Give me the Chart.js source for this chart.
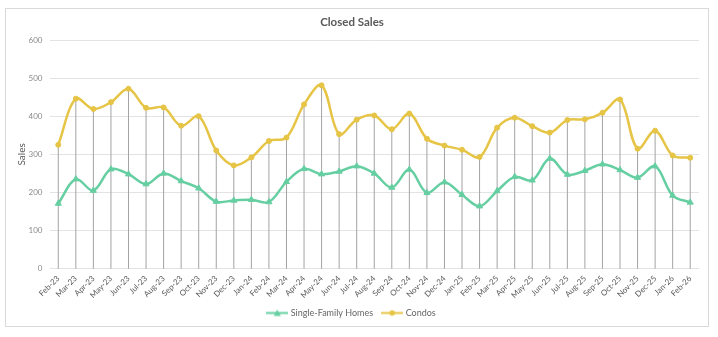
<!DOCTYPE html>
<html>
<head>
<meta charset="utf-8">
<script src="https://cdn.jsdelivr.net/npm/chart.js@4.4.1/dist/chart.umd.min.js"></script>
<style>
  body { margin: 0; background: #fff; }
  canvas { display: block; }
</style>
</head>
<body>
<canvas id="chart" width="718" height="337"></canvas>
<script>
const months = [
  "Feb-23", "Mar-23", "Apr-23", "May-23", "Jun-23", "Jul-23", "Aug-23", "Sep-23", "Oct-23", "Nov-23", "Dec-23", "Jan-24",
  "Feb-24", "Mar-24", "Apr-24", "May-24", "Jun-24", "Jul-24", "Aug-24", "Sep-24", "Oct-24", "Nov-24", "Dec-24", "Jan-25",
  "Feb-25", "Mar-25", "Apr-25", "May-25", "Jun-25", "Jul-25", "Aug-25", "Sep-25", "Oct-25", "Nov-25", "Dec-25", "Jan-26",
  "Feb-26"
];
const singleFamily = [
  171, 235, 205, 261, 248, 222, 250, 230, 211, 176, 179, 181,
  175, 228, 262, 248, 255, 269, 250, 213, 260, 199, 227, 194,
  164, 204, 241, 232, 289, 247, 257, 274, 259, 239, 269, 192,
  174
];
const condos = [
  325, 446, 419, 437, 472, 422, 423, 375, 400, 310, 271, 292,
  335, 344, 431, 481, 353, 391, 402, 366, 407, 341, 323, 312,
  293, 370, 396, 374, 357, 390, 392, 409, 444, 315, 362, 297,
  291
];
const yMin = 0, yMax = 600, yStep = 100;

const GREEN = "#66cfa2";
const YELLOW = "#e6c445";
const FONT = "Lato";

// small line + marker swatches for the legend
function legendIcon(color, marker) {
  const c = document.createElement("canvas");
  c.width = 22; c.height = 9;
  const g = c.getContext("2d");
  g.strokeStyle = color; g.fillStyle = color; g.lineWidth = 2;
  g.beginPath(); g.moveTo(0, 4.5); g.lineTo(22, 4.5); g.stroke();
  g.beginPath();
  if (marker === "triangle") {
    g.moveTo(11, 1); g.lineTo(14.5, 7.5); g.lineTo(7.5, 7.5); g.closePath();
  } else {
    g.arc(11, 4.5, 2.8, 0, Math.PI * 2);
  }
  g.fill();
  return c;
}
const icons = [legendIcon(GREEN, "triangle"), legendIcon(YELLOW, "circle")];

// grey drop lines from the highest point down to the axis
const dropLines = {
  id: "dropLines",
  beforeDatasetsDraw(chart) {
    const { ctx, chartArea } = chart;
    const metas = chart.data.datasets.map((d, i) => chart.getDatasetMeta(i));
    ctx.save();
    ctx.strokeStyle = "#a3a3a3";
    ctx.lineWidth = 1;
    months.forEach((m, i) => {
      const x = metas[0].data[i].x;
      const top = Math.min(...metas.map((mt) => mt.data[i].y));
      ctx.beginPath();
      ctx.moveTo(x, top);
      ctx.lineTo(x, chartArea.bottom);
      ctx.stroke();
    });
    ctx.restore();
  },
};

const frame = {
  id: "frame",
  beforeDraw(chart) {
    const ctx = chart.ctx;
    ctx.save();
    ctx.fillStyle = "#fff";
    ctx.fillRect(0, 0, chart.width, chart.height);
    ctx.strokeStyle = "#d9d9d9";
    ctx.lineWidth = 1;
    ctx.strokeRect(5.5, 8.5, 703, 318);
    ctx.restore();
  },
};

new Chart(document.getElementById("chart"), {
  type: "line",
  data: {
    labels: months,
    datasets: [
      {
        label: "Single-Family Homes",
        data: singleFamily,
        borderColor: GREEN,
        backgroundColor: GREEN,
        borderWidth: 2.5,
        tension: 0.35,
        pointStyle: "triangle",
        pointRadius: 3.5,
        pointBorderWidth: 1,
      },
      {
        label: "Condos",
        data: condos,
        borderColor: YELLOW,
        backgroundColor: YELLOW,
        borderWidth: 2.5,
        tension: 0.35,
        pointStyle: "circle",
        pointRadius: 2.5,
        pointBorderWidth: 1,
      },
    ],
  },
  options: {
    responsive: false,
    animation: false,
    layout: { padding: { left: 5, right: 19, top: 8, bottom: 9.5 } },
    plugins: {
      tooltip: { enabled: false },
      title: {
        display: true,
        text: "Closed Sales",
        color: "#595959",
        font: { family: FONT, size: 11.5, weight: "bold" },
        padding: { top: 7.2, bottom: 11 },
      },
      legend: {
        position: "bottom",
        labels: {
          usePointStyle: true,
          pointStyleWidth: 18,
          color: "#666666",
          font: { family: FONT, size: 9 },
          padding: 10,
          generateLabels: (chart) =>
            Chart.defaults.plugins.legend.labels
              .generateLabels(chart)
              .map((l, i) => ({ ...l, pointStyle: icons[i] })),
        },
      },
    },
    scales: {
      x: {
        offset: true,
        grid: { display: false, drawTicks: false },
        border: { display: false },
        ticks: {
          color: "#595959",
          font: { family: FONT, size: 8 },
          minRotation: 45,
          maxRotation: 45,
          autoSkip: false,
          padding: 5,
        },
        afterFit: (s) => { s.height = 29.8; },
      },
      y: {
        min: yMin,
        max: yMax,
        ticks: {
          stepSize: yStep,
          color: "#8a8a8a",
          font: { family: FONT, size: 8 },
          padding: 7,
        },
        grid: { color: "#e3e3e3", drawTicks: false },
        border: { display: false },
        title: {
          display: true,
          text: "Sales",
          color: "#595959",
          font: { family: FONT, size: 10 },
          padding: { top: 11, bottom: 0 },
        },
        afterFit: (s) => { s.width = 44.5; },
      },
    },
  },
  plugins: [frame, dropLines],
});
</script>
</body>
</html>
